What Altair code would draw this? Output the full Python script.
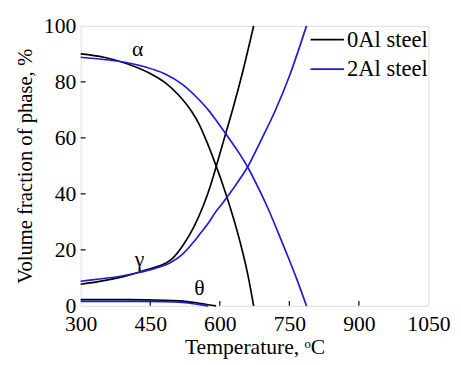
import altair as alt
import pandas as pd

# 0Al steel
al0_alpha_T = [300, 350, 400, 450, 480, 510, 539, 555, 571, 592, 605, 617, 630, 645, 660, 673]
al0_alpha_v = [90.0, 88.8, 86.5, 83.0, 80.0, 75.5, 69.5, 65.0, 59.0, 50.0, 44.0, 38.0, 31.0, 22.0, 11.5, 0.0]
al0_gamma_T = [300, 350, 400, 440, 470, 495, 520, 545, 565, 580, 592, 610, 630, 650, 673]
al0_gamma_v = [7.7, 9.0, 10.8, 12.8, 14.3, 16.5, 21.5, 28.5, 36.0, 43.0, 49.6, 60.0, 71.5, 84.0, 100.0]
al0_theta_T = [300, 400, 480, 520, 550, 575, 592]
al0_theta_v = [2.2, 2.2, 2.0, 1.7, 1.1, 0.4, 0.0]

# 2Al steel
al2_alpha_T = [300, 350, 395, 440, 480, 520, 550, 575, 592, 617, 640, 660, 685, 705, 725, 741, 765, 787]
al2_alpha_v = [88.8, 88.0, 87.0, 85.3, 83.0, 79.0, 74.5, 70.0, 66.3, 60.5, 55.0, 49.6, 41.5, 34.4, 26.5, 20.0, 10.0, 0.0]
al2_gamma_T = [300, 340, 380, 423, 460, 494, 520, 543, 560, 575, 590, 605, 620, 640, 660, 690, 719, 750, 787]
al2_gamma_v = [8.8, 9.6, 10.4, 11.8, 13.4, 15.5, 18.5, 22.7, 26.3, 29.5, 33.3, 36.5, 39.8, 44.5, 49.6, 59.5, 69.5, 82.0, 100.0]
al2_theta_T = [300, 400, 480, 520, 550, 575]
al2_theta_v = [1.6, 1.6, 1.5, 1.2, 0.6, 0.0]

series = ["0Al steel", "2Al steel"]
colors = ["#000000", "#1c1cd4"]

phase_labels = ["α", "γ", "θ"]
phase_label_T = [423, 427, 556]
phase_label_v = [91.6, 16.8, 6.3]

x_ticks = [300, 450, 600, 750, 900, 1050]
y_ticks = [0, 20, 40, 60, 80, 100]
inner_x_ticks = [450, 600, 750, 900]
inner_y_ticks = [20, 40, 60, 80]

rows = []
for steel, phase, Ts, vs in [
    (series[0], "alpha", al0_alpha_T, al0_alpha_v),
    (series[0], "gamma", al0_gamma_T, al0_gamma_v),
    (series[0], "theta", al0_theta_T, al0_theta_v),
    (series[1], "alpha", al2_alpha_T, al2_alpha_v),
    (series[1], "gamma", al2_gamma_T, al2_gamma_v),
    (series[1], "theta", al2_theta_T, al2_theta_v),
]:
    for t, v in zip(Ts, vs):
        rows.append({"T": t, "v": v, "steel": steel, "phase": steel + phase})
df = pd.DataFrame(rows)

FONT = "Liberation Serif"

xscale = alt.Scale(domain=[300, 1050], nice=False, zero=False)
yscale = alt.Scale(domain=[0, 100], nice=False)

lines = alt.Chart(df).mark_line(interpolate="monotone", strokeWidth=1.7).encode(
    x=alt.X("T:Q", scale=xscale,
            axis=alt.Axis(title="Temperature, ᵒC", values=x_ticks, format="d", ticks=False, grid=False,
                          domain=False, labelPadding=8, labelFont=FONT, labelFontSize=22,
                          titleFont=FONT, titleFontSize=22, titlePadding=3, labelFlush=False)),
    y=alt.Y("v:Q", scale=yscale,
            axis=alt.Axis(title="Volume fraction of phase, %", values=y_ticks, format="d", ticks=False,
                          grid=False, domain=False, labelPadding=5, labelFont=FONT, labelFontSize=22,
                          titleFont=FONT, titleFontSize=21, titlePadding=8, labelFlush=False)),
    color=alt.Color("steel:N", scale=alt.Scale(domain=series, range=colors),
                    legend=alt.Legend(title=None, orient="none", legendX=233, legendY=-4,
                                      symbolType="stroke", symbolSize=1156, symbolStrokeWidth=1.8,
                                      labelFont=FONT, labelFontSize=23,
                                      labelOffset=2, rowPadding=-4)),
    detail="phase:N",
)

labels_df = pd.DataFrame({"label": phase_labels, "T": phase_label_T, "v": phase_label_v})
labels = alt.Chart(labels_df).mark_text(font=FONT, fontSize=22, color="black").encode(
    x=alt.X("T:Q", scale=xscale), y=alt.Y("v:Q", scale=yscale), text="label:N"
)

xt = alt.Chart(pd.DataFrame({"t": inner_x_ticks})).mark_rule(color="black", strokeWidth=1.2).encode(
    x=alt.X("t:Q", scale=xscale), y=alt.value(285), y2=alt.value(280)
)
yt = alt.Chart(pd.DataFrame({"t": inner_y_ticks})).mark_rule(color="black", strokeWidth=1.2).encode(
    y=alt.Y("t:Q", scale=yscale), x=alt.value(0), x2=alt.value(5)
)

chart = alt.layer(lines, labels, xt, yt).properties(
    width=354, height=285,
    autosize=alt.AutoSizeParams(type="none"),
    padding={"left": 74, "top": 15, "right": 25, "bottom": 56},
).configure_view(stroke="black", strokeWidth=1.5).configure(
    background="white", font=FONT
).configure_axis(
    labelColor="black", titleFontWeight="normal", titleColor="black"
).configure_legend(
    labelColor="black"
)

chart.save("out.html", embed_options={"renderer": "svg", "actions": False})
